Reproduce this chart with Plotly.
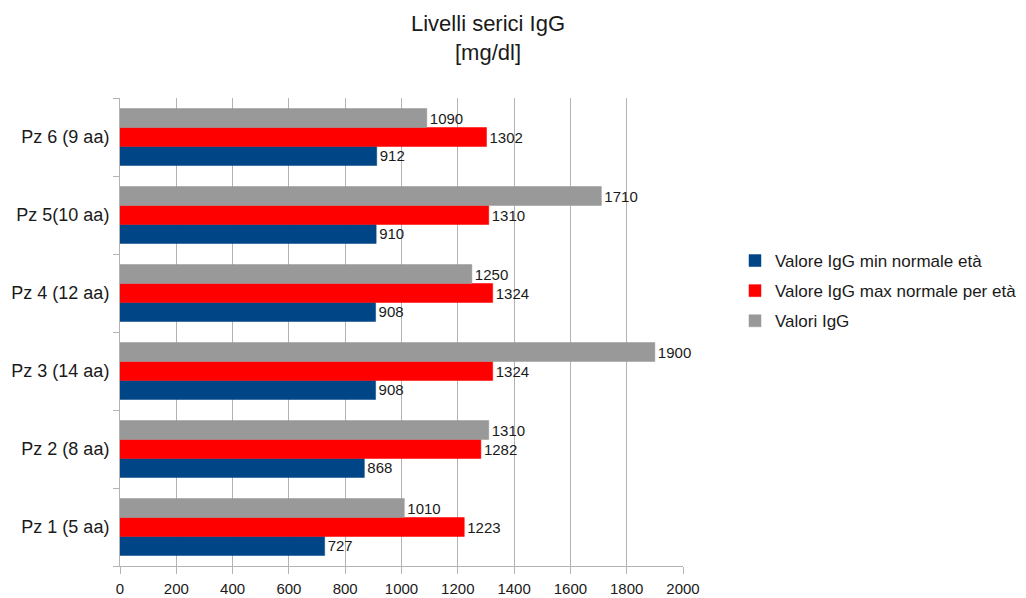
import plotly.graph_objects as go

categories = ["Pz 1 (5 aa)", "Pz 2 (8 aa)", "Pz 3 (14 aa)", "Pz 4 (12 aa)", "Pz 5(10 aa)", "Pz 6 (9 aa)"]
min_vals = [727, 868, 908, 908, 910, 912]
max_vals = [1223, 1282, 1324, 1324, 1310, 1302]
igg_vals = [1010, 1310, 1900, 1250, 1710, 1090]
series_names = ["Valore IgG min normale età", "Valore IgG max normale per età", "Valori IgG"]
colors = ["#004586", "#ff0000", "#999999"]
x_ticks = [0, 200, 400, 600, 800, 1000, 1200, 1400, 1600, 1800, 2000]

fig = go.Figure()
for i, (name, vals, col) in enumerate(zip(series_names, [min_vals, max_vals, igg_vals], colors)):
    fig.add_trace(go.Bar(
        y=categories, x=vals, orientation="h", name=name, legendgroup=f"g{i}",
        marker=dict(color=col, line=dict(color=col, width=0.5)),
        text=[str(v) for v in vals], textposition="outside",
        textfont=dict(size=15, color="#1a1a1a"), cliponaxis=False,
    ))

fig.add_annotation(text="Livelli serici IgG<br>[mg/dl]", xref="paper", yref="paper",
                   x=(488 - 120) / 563, y=(566 - 9) / 468, xanchor="center", yanchor="top",
                   showarrow=False, font=dict(size=22, color="#1a1a1a"))

fig.update_layout(
    width=1026, height=598,
    paper_bgcolor="white", plot_bgcolor="white",
    font=dict(family="Liberation Sans, Arial, sans-serif", color="#1a1a1a"),
    barmode="group", bargap=0.27, bargroupgap=0,
    margin=dict(l=120, r=343, t=98, b=32, autoexpand=False),
    xaxis=dict(range=[0, 2000], tickvals=x_ticks, showgrid=True, gridcolor="#b3b3b3", gridwidth=1,
               showline=True, linecolor="#b3b3b3", ticks="outside", ticklen=7, tickcolor="#b3b3b3",
               ticklabelstandoff=2, automargin=False,
               tickfont=dict(size=15, color="#1a1a1a"), zeroline=False),
    yaxis=dict(showline=True, linecolor="#b3b3b3", ticks="outside", tickson="boundaries", ticklen=6,
               tickcolor="#b3b3b3", ticklabelstandoff=6, automargin=False,
               tickfont=dict(size=18, color="#1a1a1a"), showgrid=False),
    legend=dict(x=(735 - 120) / 563, y=(566 - 291) / 468, xanchor="left", yanchor="middle",
                traceorder="grouped", tracegroupgap=5,
                font=dict(size=17, color="#1a1a1a"), itemwidth=30),
)
fig.write_html("out.html")
